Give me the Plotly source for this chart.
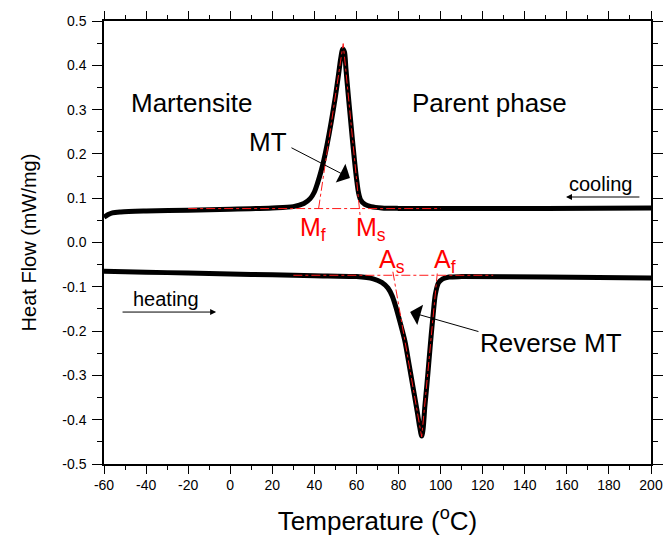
import plotly.graph_objects as go

# DSC scan: cooling branch (exothermic martensitic transformation)
cool_T = [-60, -58, -56, -52, -40, -20, 0, 20, 30, 35, 38, 40, 41.5, 43, 44.5, 46,
          48, 50, 51.5, 52.5, 53.5, 54.3, 55, 56, 57, 58, 59, 60, 61, 62, 64, 67,
          72, 80, 100, 150, 200]
cool_HF = [0.057, 0.063, 0.067, 0.069, 0.071, 0.073, 0.075, 0.078, 0.081, 0.088,
           0.099, 0.114, 0.134, 0.158, 0.186, 0.220, 0.272, 0.330, 0.380, 0.415,
           0.437, 0.430, 0.392, 0.338, 0.287, 0.236, 0.188, 0.145, 0.112, 0.096,
           0.086, 0.081, 0.078, 0.077, 0.077, 0.077, 0.078]

# heating branch (endothermic reverse transformation)
heat_T = [-60, -40, -20, 0, 20, 40, 60, 68, 72, 75, 77, 79, 81, 83, 85, 87, 89, 90,
          91, 91.7, 92.5, 93.5, 94.5, 95.5, 96.5, 97.5, 99, 101, 104, 110, 150, 200]
heat_HF = [-0.065, -0.067, -0.069, -0.071, -0.073, -0.075, -0.077, -0.082, -0.090,
           -0.103, -0.121, -0.150, -0.185, -0.222, -0.275, -0.330, -0.385, -0.415,
           -0.437, -0.420, -0.370, -0.320, -0.265, -0.210, -0.160, -0.117, -0.091,
           -0.082, -0.078, -0.077, -0.078, -0.080]

# onset/finish construction: baselines and tangents
cool_base_T = [-20, 100]
cool_base_HF = [0.0766, 0.0766]
Mf_T, Ms_T, M_apex = 42.0, 61.3, (53.7, 0.449)
As_T, Af_T, A_apex = 77.6, 98.2, (91.0, -0.439)
heat_base_T = [30, 125]
heat_base_HF = [-0.074, -0.074]

x_ticks = list(range(-60, 201, 20))
x_ticklabels = [str(v) for v in x_ticks]
y_ticks = [0.5, 0.4, 0.3, 0.2, 0.1, 0.0, -0.1, -0.2, -0.3, -0.4, -0.5]
y_ticklabels = ["0.5", "0.4", "0.3", "0.2", "0.1", "0.0", "-0.1", "-0.2", "-0.3", "-0.4", "-0.5"]

FONT = "Liberation Sans, Arial, sans-serif"
red_line = dict(color="#ff1a1a", width=1, dash="dashdot")

fig = go.Figure()
fig.add_trace(go.Scatter(x=cool_T, y=cool_HF, mode="lines",
                         line=dict(color="black", width=5, shape="spline", smoothing=0.8)))
fig.add_trace(go.Scatter(x=heat_T, y=heat_HF, mode="lines",
                         line=dict(color="black", width=5, shape="spline", smoothing=0.8)))

# construction lines
fig.add_trace(go.Scatter(x=cool_base_T, y=cool_base_HF, mode="lines", line=red_line))
fig.add_trace(go.Scatter(x=[Mf_T, M_apex[0], Ms_T + 0.55], y=[cool_base_HF[0], M_apex[1], 0.055],
                         mode="lines", line=red_line))
fig.add_trace(go.Scatter(x=heat_base_T, y=heat_base_HF, mode="lines", line=red_line))
fig.add_trace(go.Scatter(x=[As_T - 0.3, A_apex[0], Af_T + 0.2], y=[-0.066, A_apex[1], -0.07],
                         mode="lines", line=red_line))

ann_font = dict(family=FONT, size=26, color="black")
small_font = dict(family=FONT, size=20, color="black")
red_font = dict(family=FONT, size=25, color="red")
annotations = [
    dict(x=-18.2, y=0.315, text="Martensite", font=ann_font),
    dict(x=123.4, y=0.315, text="Parent phase", font=ann_font),
    dict(x=18, y=0.228, text="MT", font=ann_font),
    dict(x=152.4, y=-0.227, text="Reverse MT", font=ann_font),
    dict(x=176, y=0.132, text="cooling", font=small_font),
    dict(x=-30.5, y=-0.128, text="heating", font=small_font),
]
for a in annotations:
    a.update(xref="x", yref="y", showarrow=False)

# transformation temperature labels, anchored at the capital letter's left edge
for x, y, txt in [(32.2, 0.0305, "M<sub>f</sub>"), (58.8, 0.0305, "M<sub>s</sub>"),
                  (69.8, -0.042, "A<sub>s</sub>"), (95.9, -0.042, "A<sub>f</sub>")]:
    annotations.append(dict(x=x, y=y, text=txt, xref="x", yref="y", showarrow=False,
                            xanchor="left", font=red_font))

arrows = [
    ((56.9, 0.1456), (28.4, 0.2156), 1, 3.5),
    ((85.5, -0.157), (118.7, -0.202), 1, 3.5),
    ((159.6, 0.1027), (195.2, 0.1027), 2, 1.2),
    ((-6.7, -0.157), (-51.9, -0.157), 2, 1.2),
]
for (hx, hy), (tx, ty), head, size in arrows:
    annotations.append(dict(x=hx, y=hy, ax=tx, ay=ty, xref="x", yref="y", axref="x", ayref="y",
                            text="", showarrow=True, arrowhead=head, arrowsize=size,
                            arrowwidth=1, arrowcolor="black"))

axis_common = dict(showgrid=False, zeroline=False, showline=True, linecolor="black",
                   linewidth=1.5, mirror="ticks", ticks="outside", tickwidth=1.2,
                   tickcolor="black", automargin=False,
                   tickfont=dict(family=FONT, size=14, color="black"))

fig.update_layout(
    width=668, height=538,
    margin=dict(l=104, r=17, t=21, b=74),
    plot_bgcolor="white", paper_bgcolor="white",
    showlegend=False,
    annotations=annotations,
    xaxis=dict(range=[-60, 200], tickvals=x_ticks, ticktext=x_ticklabels, ticklen=8,
               ticklabelstandoff=-1,
               minor=dict(dtick=10, ticks="outside", ticklen=4, tickcolor="black"),
               title=dict(text="Temperature (<sup>o</sup>C)", font=dict(family=FONT, size=26, color="black"),
                          standoff=20),
               **axis_common),
    yaxis=dict(range=[-0.5, 0.5], tickvals=y_ticks, ticktext=y_ticklabels, ticklen=10,
               ticklabelstandoff=3,
               minor=dict(dtick=0.05, ticks="outside", ticklen=5, tickcolor="black"),
               title=dict(text="Heat Flow (mW/mg)", font=dict(family=FONT, size=20, color="black"),
                          standoff=20),
               **axis_common),
)

fig.write_html("out.html")
